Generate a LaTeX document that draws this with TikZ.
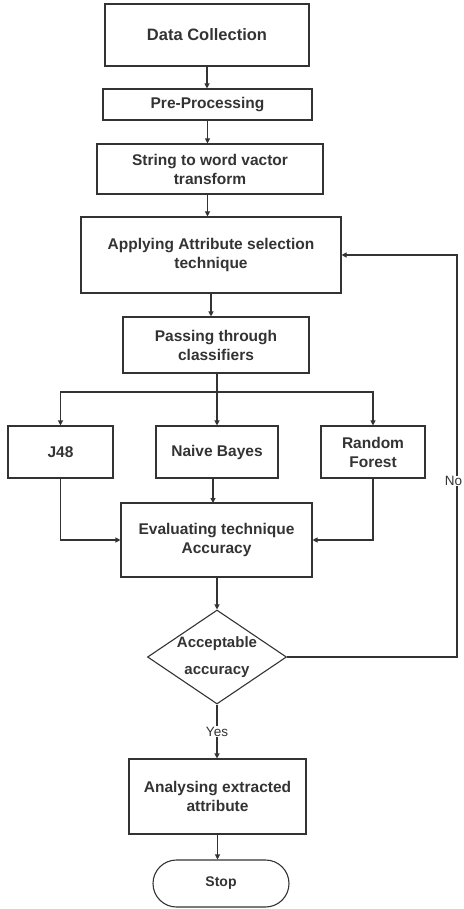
\documentclass[tikz,border=0pt]{standalone}
\usepackage{fontspec}
\setmainfont{Liberation Sans}
\usetikzlibrary{shapes.geometric,arrows.meta}
\definecolor{ink}{HTML}{333333}

\begin{document}
\begin{tikzpicture}[x=1pt,y=-1pt,
        box/.style={draw=ink,line width=1.1pt,text=ink,align=center,inner sep=0pt,
            font=\bfseries\fontsize{15.5}{19}\selectfont},
        decision/.style={diamond,draw=ink,line width=1.1pt,inner sep=0pt},
        terminal/.style={box,rounded corners=23.5pt,font=\bfseries\fontsize{14}{17}\selectfont},
        arr/.style={draw=ink,line width=1.1pt,-{Triangle[length=5pt,width=5pt]}},
        tag/.style={fill=white,text=ink,inner sep=1pt,font=\fontsize{13.5}{16}\selectfont}]
        \useasboundingbox (0,0) rectangle (463,909);

        % 主流程的方框
        \node[box,minimum width=204pt,minimum height=62pt,
            font=\bfseries\fontsize{16.5}{20}\selectfont] (data) at (207,35) {Data Collection};
        \node[box,minimum width=209pt,minimum height=31pt] (pre) at (207.5,104.5) {Pre-Processing};
        \node[box,minimum width=226pt,minimum height=50pt] (str) at (210,169) {String to word vactor\\transform};
        \node[box,minimum width=260pt,minimum height=76pt] (apply) at (211,255) {Applying Attribute selection\\technique};
        \node[box,minimum width=186pt,minimum height=56pt] (pass) at (216,345) {Passing through\\classifiers};

        % 三个分类器
        \node[box,minimum width=105pt,minimum height=52pt] (j48) at (60.5,452) {J48};
        \node[box,minimum width=122pt,minimum height=52pt] (nb) at (217,452) {Naive Bayes};
        \node[box,minimum width=104pt,minimum height=52pt] (rf) at (373,452) {Random\\Forest};

        \node[box,minimum width=191pt,minimum height=74pt] (eval) at (216.5,540) {Evaluating technique\\Accuracy};

        % 判断和结束
        \node[decision,minimum width=139pt,minimum height=94pt] (acc) at (217,657) {};
        \node[text=ink,align=center,font=\bfseries\fontsize{15}{27}\selectfont] (accT) at (acc) {Acceptable\\accuracy};
        \node[box,minimum width=177pt,minimum height=75pt] (ana) at (217.5,796.5) {Analysing extracted\\attribute};
        \node[terminal,minimum width=136pt,minimum height=47pt] (stop) at (221,883.5) {Stop};

        % 连接线
        \draw[arr] (data.south) -- (data.south |- pre.north);
        \draw[arr] (pre.south) -- (pre.south |- str.north);
        \draw[arr] (pre.south |- str.south) -- (pre.south |- apply.north);
        \draw[arr] (apply.south) -- (apply.south |- pass.north);

        \coordinate (split) at (217,392);
        \draw[ink,line width=1.1pt] (pass.south -| split) -- (split);
        \draw[arr] (split) -| (j48.north);
        \draw[arr] (split) -- (split |- nb.north);
        \draw[arr] (split) -| (rf.north);

        \draw[arr] (j48.south) |- (eval.west);
        \draw[arr] (213,478) -- (213,503);
        \draw[arr] (rf.south) |- (eval.east);

        \draw[arr] (eval.south -| acc.north) -- (acc.north);
        \draw[arr] (acc.south) -- node[tag] (yes) {Yes} (acc.south |- ana.north);
        \draw[arr] (ana.south) -- (ana.south |- stop.north);

        % 返回线
        \coordinate (back) at (457,657);
        \draw[arr] (acc.east) -- (back) |- (apply.east);
        \node[tag,inner sep=0.5pt] (no) at (453.5,481) {No};
\end{tikzpicture}
\end{document}
